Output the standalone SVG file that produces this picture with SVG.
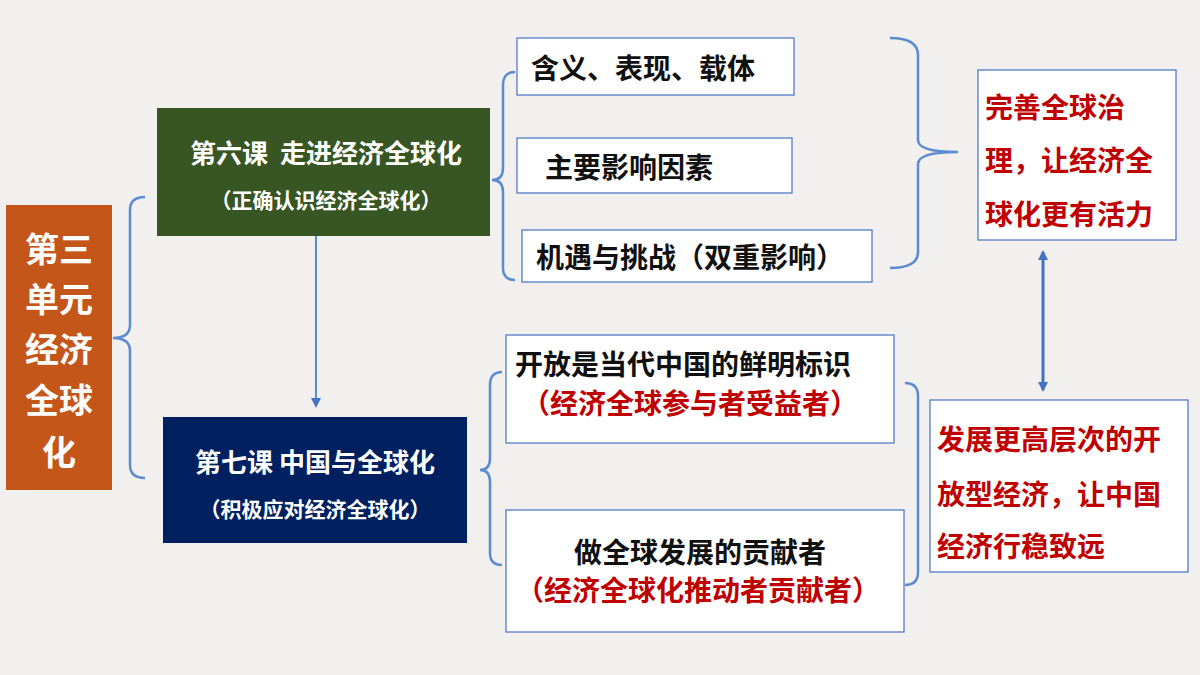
<svg xmlns="http://www.w3.org/2000/svg" width="1200" height="675" viewBox="0 0 1200 675">
<defs>
<style>
text{font-family:"Noto Sans CJK SC","Liberation Sans",sans-serif;font-weight:bold}
.w{fill:#fff}.b{fill:#111}.r{fill:#c00000}
.box{fill:#fff;stroke:#4472c4;stroke-width:1.2}
.br{fill:none;stroke:#5b8bd0;stroke-width:2.5}
</style>
<marker id="ah" markerWidth="10" markerHeight="10" refX="8" refY="5" orient="auto-start-reverse" markerUnits="userSpaceOnUse"><path d="M0,0L10,5L0,10z" fill="#4472c4"/></marker>
</defs>
<rect width="1200" height="675" fill="#f2f0ee"/>
<g id="connectors">
<path class="br" d="M145,197 Q130,197 130,210 L130,325 Q130,338 113,338 Q130,338 130,351 L130,465 Q130,478 145,478"/>
<path class="br" d="M515,72 Q503,72 503,85 L503,168 Q503,180 492,180 Q503,180 503,192 L503,268 Q503,280 515,280"/>
<path class="br" d="M890,38 Q918,38 918,55 L918,140 Q918,152 958,152 Q918,152 918,164 L918,252 Q918,268 890,268"/>
<path class="br" d="M502,372 Q490,372 490,385 L490,458 Q490,470 480,470 Q490,470 490,482 L490,553 Q490,565 502,565"/>
<path class="br" d="M905,383 Q918,383 918,396 L918,572 Q918,585 905,585"/>
<line x1="316" y1="230" x2="316" y2="406" stroke="#5b8bd0" stroke-width="2" marker-end="url(#ah)"/>
<line x1="1043" y1="252" x2="1043" y2="390" stroke="#4472c4" stroke-width="3" marker-start="url(#ah)" marker-end="url(#ah)"/>
</g>
<g id="unit">
<rect x="6" y="205" width="106" height="285" fill="#c5561a"/>
<g class="w" font-size="34" text-anchor="middle">
<text x="59" y="262">第三</text><text x="59" y="312">单元</text><text x="59" y="362">经济</text><text x="59" y="413">全球</text><text x="59" y="465">化</text>
</g>
</g>
<g id="l6">
<rect x="157" y="108" width="333" height="128" fill="#375623"/>
<text class="w" x="326" y="163" font-size="26" text-anchor="middle" xml:space="preserve">第六课  走进经济全球化</text>
<text class="w" x="326" y="208" font-size="21" text-anchor="middle">（正确认识经济全球化）</text>
</g>
<g id="l7">
<rect x="163" y="417" width="304" height="126" fill="#002060"/>
<text class="w" x="315" y="472" font-size="26" text-anchor="middle">第七课 中国与全球化</text>
<text class="w" x="315" y="517" font-size="21" text-anchor="middle">（积极应对经济全球化）</text>
</g>
<g id="n1"><rect class="box" x="517" y="38" width="277" height="57"/><text class="b" x="531" y="79" font-size="28">含义、表现、载体</text></g>
<g id="n2"><rect class="box" x="517" y="138" width="275" height="55"/><text class="b" x="545" y="178" font-size="28">主要影响因素</text></g>
<g id="n3"><rect class="box" x="522" y="230" width="350" height="52"/><text class="b" x="536" y="268" font-size="28">机遇与挑战（双重影响）</text></g>
<g id="n4"><rect class="box" x="978" y="70" width="198" height="170"/>
<g class="r" font-size="28"><text x="985" y="118">完善全球治</text><text x="985" y="171">理，让经济全</text><text x="985" y="225">球化更有活力</text></g></g>
<g id="n5"><rect class="box" x="506" y="335" width="388" height="108"/>
<text class="b" x="515" y="375" font-size="28">开放是当代中国的鲜明标识</text>
<text class="r" x="522" y="414" font-size="28">（经济全球参与者受益者）</text></g>
<g id="n6"><rect class="box" x="506" y="510" width="398" height="122"/>
<text class="b" x="574" y="563" font-size="28">做全球发展的贡献者</text>
<text class="r" x="516" y="601" font-size="28">（经济全球化推动者贡献者）</text></g>
<g id="n7"><rect class="box" x="930" y="400" width="258" height="172"/>
<g class="r" font-size="28"><text x="937" y="450">发展更高层次的开</text><text x="937" y="505">放型经济，让中国</text><text x="937" y="557">经济行稳致远</text></g></g>
</svg>
